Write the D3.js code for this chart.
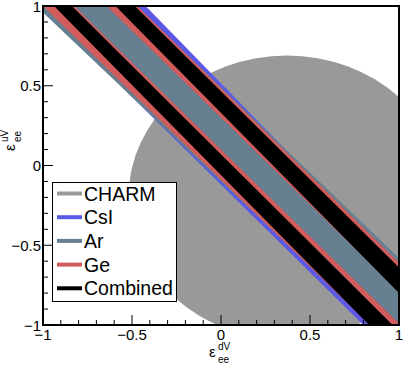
<!DOCTYPE html>
<html>
<head>
<meta charset="utf-8">
<script src="https://cdn.jsdelivr.net/npm/d3@7"></script>
<style>
body { margin:0; background:#fff; }
svg { display:block; font-family:"Liberation Sans", Arial, Helvetica, sans-serif; }
</style>
</head>
<body>
<svg></svg>
<script>

// CHARM allowed disk (centre in eps_dV, eps_uV, radius)
var charmCenter = [0.37, -0.20]
var charmRadius = 0.89

// bands: [yLow at x=-1, yLow at x=1, yHigh at x=-1, yHigh at x=1]
var csiBands = [[0.98, -1.22, 1.66, -0.63]]
var arBands = [[0.96, -1.16, 1.56, -0.58]]
var geBands = [[1.00, -1.18, 1.19, -0.99], [1.39, -0.79, 1.58, -0.61]]
var combinedBands = [[1.07, -1.19, 1.18, -1.04], [1.46, -0.80, 1.57, -0.64]]

var legendNames = ["CHARM", "CsI", "Ar", "Ge", "Combined"]
var legendColors = ["#999999", "#5a5ae6", "#667f91", "#d25c5c", "#000000"]

var xTicks = [-1, -0.5, 0, 0.5, 1]
var yTicks = [-1, -0.5, 0, 0.5, 1]
var minorTicks = d3.range(-10, 11).map(function(i){return i/10})

var screen = {width:409, height:374}
var plot = {left:43, right:399, top:6, bottom:325}

var svg = d3.select("svg")
    .attr("width", screen.width)
    .attr("height", screen.height)

var xScale = d3.scaleLinear().domain([-1, 1]).range([plot.left, plot.right])
var yScale = d3.scaleLinear().domain([-1, 1]).range([plot.bottom, plot.top])

svg.append("clipPath").attr("id", "frame")
    .append("rect")
    .attr("x", plot.left).attr("y", plot.top)
    .attr("width", plot.right - plot.left)
    .attr("height", plot.bottom - plot.top)

var area = svg.append("g").attr("clip-path", "url(#frame)")

area.append("ellipse")
    .attr("cx", xScale(charmCenter[0]))
    .attr("cy", yScale(charmCenter[1]))
    .attr("rx", xScale(charmRadius) - xScale(0))
    .attr("ry", yScale(0) - yScale(charmRadius))
    .attr("fill", legendColors[0])

var bandPath = function(b)
{
    var pts = [[-1, b[0]], [1, b[1]], [1, b[3]], [-1, b[2]]]
    return "M" + pts.map(function(p){return xScale(p[0]) + "," + yScale(p[1])}).join("L") + "Z"
}

var drawBands = function(bands, color)
{
    area.append("g")
    .selectAll("path")
    .data(bands)
    .enter()
    .append("path")
    .attr("d", bandPath)
    .attr("fill", color)
}

drawBands(csiBands, legendColors[1])
drawBands(arBands, legendColors[2])
drawBands(geBands, legendColors[3])
drawBands(combinedBands, legendColors[4])

// frame
svg.append("rect")
    .attr("x", plot.left).attr("y", plot.top)
    .attr("width", plot.right - plot.left)
    .attr("height", plot.bottom - plot.top)
    .attr("fill", "none")
    .attr("stroke", "#000")
    .attr("stroke-width", 2)

// ticks inside frame
var isMajor = function(v){return Math.abs(v*2 - Math.round(v*2)) < 1e-6}

svg.append("g")
    .selectAll("line")
    .data(minorTicks)
    .enter()
    .append("line")
    .attr("x1", function(d){return xScale(d)})
    .attr("x2", function(d){return xScale(d)})
    .attr("y1", plot.bottom)
    .attr("y2", function(d){return plot.bottom - (isMajor(d) ? 10 : 5)})
    .attr("stroke", "#000")

svg.append("g")
    .selectAll("line")
    .data(minorTicks)
    .enter()
    .append("line")
    .attr("y1", function(d){return yScale(d)})
    .attr("y2", function(d){return yScale(d)})
    .attr("x1", plot.left)
    .attr("x2", function(d){return plot.left + (isMajor(d) ? 10 : 5)})
    .attr("stroke", "#000")

var fmt = function(d){return d < 0 ? "\u2212" + Math.abs(d) : String(d)}

svg.append("g")
    .selectAll("text")
    .data(xTicks)
    .enter()
    .append("text")
    .attr("x", function(d){return xScale(d)})
    .attr("y", 340)
    .attr("text-anchor", "middle")
    .attr("font-size", 15)
    .text(fmt)

svg.append("g")
    .selectAll("text")
    .data(yTicks)
    .enter()
    .append("text")
    .attr("x", 41)
    .attr("y", function(d){return yScale(d) + 5.5})
    .attr("text-anchor", "end")
    .attr("font-size", 15)
    .text(fmt)

// axis titles
var title = function(g, sup)
{
    g.append("text").attr("x", -9).attr("y", 0).attr("font-size", 15).text("\u03b5")
    g.append("text").attr("x", 0).attr("y", -7).attr("font-size", 10).text(sup)
    g.append("text").attr("x", 0).attr("y", 6).attr("font-size", 10).text("ee")
}
title(svg.append("g").attr("transform", "translate(218,357)"), "dV")
title(svg.append("g").attr("transform", "translate(15,142) rotate(-90)"), "uV")

// legend
var legend = svg.append("g")
legend.append("rect")
    .attr("x", 52.5).attr("y", 182.5)
    .attr("width", 124).attr("height", 119)
    .attr("fill", "#fff")
    .attr("stroke", "#000")

var rows = legend.selectAll("g")
    .data(legendNames)
    .enter()
    .append("g")
    .attr("transform", function(d, i){return "translate(0," + (193.5 + i*23.7) + ")"})

rows.append("line")
    .attr("x1", 57).attr("x2", 82)
    .attr("stroke", function(d, i){return legendColors[i]})
    .attr("stroke-width", 4)

rows.append("text")
    .attr("x", 84)
    .attr("y", 7)
    .attr("font-size", 19.5)
    .text(function(d){return d})

</script>
</body>
</html>
